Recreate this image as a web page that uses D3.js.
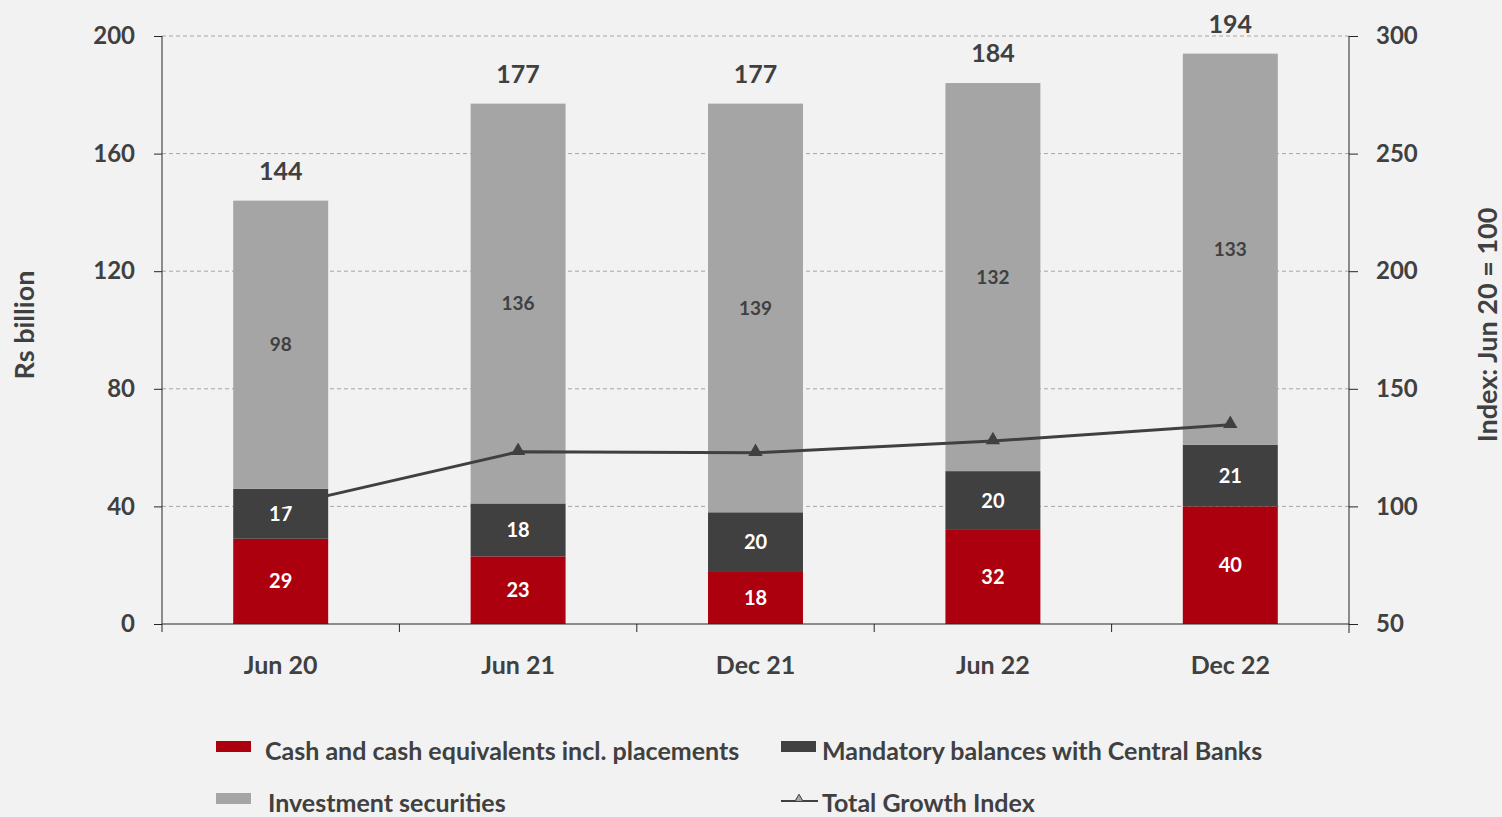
<!DOCTYPE html>
<html>
<head>
  <meta charset="utf-8">
  <title>Liquid assets</title>
  <style type="text/css">
    body { margin: 0; background: #f2f2f2; }
    svg text { font-family: Lato, "Open Sans", sans-serif; font-weight: bold; fill: #404040; }
    .axis path, .axis line { stroke: #262626; }
    .grid line { stroke: #a6a6a6; stroke-dasharray: 4 3; }
  </style>
</head>
<body>
  <div id="chart"></div>
  <script type="text/javascript" src="https://cdnjs.cloudflare.com/ajax/libs/d3/7.8.5/d3.min.js"></script>
  <script type="text/javascript">
  var periods = ['Jun 20', 'Jun 21', 'Dec 21', 'Jun 22', 'Dec 22'];
  var cash = [29, 23, 18, 32, 40];
  var mandatory = [17, 18, 20, 20, 21];
  var investments = [98, 136, 139, 132, 133];
  var totals = [144, 177, 177, 184, 194];
  var growthIndex = [100, 123.2, 122.8, 127.8, 134.7];
  var leftTicks = [0, 40, 80, 120, 160, 200];
  var rightTicks = [50, 100, 150, 200, 250, 300];

  var cfg = { w: 1502, h: 817, left: 162, right: 1349, top: 36, bottom: 624 };
  var colors = { cash: '#ad000f', mand: '#404040', inv: '#a5a5a5' };

  var svg = d3.select('#chart').append('svg')
    .attr('width', cfg.w)
    .attr('height', cfg.h);

  var xSc = d3.scaleBand().domain(periods).range([cfg.left, cfg.right]).paddingInner(0.6).paddingOuter(0.3);
  var xOuter = d3.scaleBand().domain(periods).range([cfg.left, cfg.right]);
  var ySc = d3.scaleLinear().domain([0, 200]).range([cfg.bottom, cfg.top]);
  var yRight = d3.scaleLinear().domain([50, 300]).range([cfg.bottom, cfg.top]);

  // gridlines
  svg.append('g').attr('class', 'grid')
    .selectAll('line').data(leftTicks.slice(1)).enter()
    .append('line')
    .attr('x1', cfg.left).attr('x2', cfg.right)
    .attr('y1', function(d) { return ySc(d) })
    .attr('y2', function(d) { return ySc(d) });

  // stacked bars
  var rows = periods.map(function(p, i) {
    return { period: p, cash: cash[i], mand: mandatory[i], inv: investments[i], total: totals[i] };
  });
  var stack = d3.stack().keys(['cash', 'mand', 'inv'])(rows);

  var barGroups = svg.append('g').selectAll('g.bar')
    .data(rows).enter()
    .append('g').attr('class', 'bar');

  barGroups.each(function(d, i) {
    var g = d3.select(this);
    stack.forEach(function(layer) {
      var seg = layer[i];
      g.append('rect')
        .attr('x', xSc(d.period))
        .attr('width', xSc.bandwidth())
        .attr('y', ySc(seg[1]))
        .attr('height', ySc(seg[0]) - ySc(seg[1]))
        .attr('fill', colors[layer.key]);
      g.append('text')
        .attr('x', xSc(d.period) + xSc.bandwidth() / 2)
        .attr('y', ySc((seg[0] + seg[1]) / 2))
        .attr('dy', '0.35em')
        .attr('text-anchor', 'middle')
        .style('font-size', layer.key === 'inv' ? '19px' : '20px')
        .style('fill', layer.key === 'inv' ? '#404040' : '#ffffff')
        .text(d[layer.key]);
    });
    g.append('text')
      .attr('x', xSc(d.period) + xSc.bandwidth() / 2)
      .attr('y', ySc(d.total) - 21)
      .attr('text-anchor', 'middle')
      .style('font-size', '25px')
      .text(d.total);
  });

  // growth index line
  var line = d3.line()
    .x(function(d, i) { return xSc(periods[i]) + xSc.bandwidth() / 2 })
    .y(function(d) { return yRight(d) });

  svg.append('path')
    .datum(growthIndex)
    .attr('d', line)
    .attr('fill', 'none')
    .attr('stroke', '#404040')
    .attr('stroke-width', 3);

  var tri = d3.symbol().type(d3.symbolTriangle).size(90);
  svg.append('g').selectAll('path')
    .data(growthIndex.slice(1)).enter()
    .append('path')
    .attr('d', tri)
    .attr('fill', '#404040')
    .attr('transform', function(d, i) {
      return 'translate(' + (xSc(periods[i + 1]) + xSc.bandwidth() / 2) + ',' + (yRight(d) - 1) + ')';
    });

  // first bar sits over the start of the line
  d3.select(barGroups.nodes()[0]).raise();

  // axes
  var yAxisL = svg.append('g').attr('class', 'axis')
    .attr('transform', 'translate(' + cfg.left + ',0)')
    .call(d3.axisLeft(ySc).tickValues(leftTicks).tickSize(8).tickPadding(19));
  yAxisL.select('.domain').attr('d', 'M0,' + cfg.top + 'V' + cfg.bottom);

  var yAxisR = svg.append('g').attr('class', 'axis')
    .attr('transform', 'translate(' + cfg.right + ',0)')
    .call(d3.axisRight(yRight).tickValues(rightTicks).tickSize(9).tickPadding(18));
  yAxisR.select('.domain').attr('d', 'M0,' + cfg.top + 'V' + (cfg.bottom + 9));

  var xAxis = svg.append('g').attr('class', 'axis')
    .attr('transform', 'translate(0,' + cfg.bottom + ')');
  xAxis.append('line').attr('x1', cfg.left).attr('x2', cfg.right).attr('stroke', '#262626');
  xAxis.selectAll('line.tick').data(periods).enter()
    .append('line').attr('class', 'tick')
    .attr('x1', function(d) { return xOuter(d) })
    .attr('x2', function(d) { return xOuter(d) })
    .attr('y1', 0).attr('y2', 8);
  xAxis.selectAll('text').data(periods).enter()
    .append('text')
    .attr('x', function(d) { return xOuter(d) + xOuter.bandwidth() / 2 })
    .attr('y', 50)
    .attr('text-anchor', 'middle')
    .style('font-size', '25px')
    .text(function(d) { return d });

  svg.selectAll('.axis .tick text')
    .style('font-size', '24px')
    .style('font-family', 'Lato, "Open Sans", sans-serif')
    .attr('fill', '#404040');

  // axis titles
  svg.append('text')
    .attr('transform', 'translate(34,325) rotate(-90)')
    .attr('text-anchor', 'middle')
    .style('font-size', '27px')
    .text('Rs billion');
  svg.append('text')
    .attr('transform', 'translate(1497,325) rotate(-90)')
    .attr('text-anchor', 'middle')
    .style('font-size', '27px')
    .text('Index: Jun 20 = 100');

  // legend
  var legend = [
    { label: 'Cash and cash equivalents incl. placements', type: 'rect', color: colors.cash, x: 216, tx: 265, y: 752 },
    { label: 'Mandatory balances with Central Banks', type: 'rect', color: colors.mand, x: 781, tx: 822, y: 752 },
    { label: 'Investment securities', type: 'rect', color: colors.inv, x: 216, tx: 268, y: 804 },
    { label: 'Total Growth Index', type: 'line', color: '#404040', x: 781, tx: 822, y: 804 }
  ];
  var lg = svg.append('g').selectAll('g').data(legend).enter().append('g');
  lg.each(function(d) {
    var g = d3.select(this);
    if (d.type === 'rect') {
      g.append('rect').attr('x', d.x).attr('y', d.y - 11).attr('width', 35).attr('height', 11).attr('fill', d.color);
    } else {
      g.append('line').attr('x1', d.x).attr('x2', d.x + 37).attr('y1', d.y - 3).attr('y2', d.y - 3)
        .attr('stroke', d.color).attr('stroke-width', 2);
      g.append('path').attr('d', d3.symbol().type(d3.symbolTriangle).size(30))
        .attr('transform', 'translate(' + (d.x + 18) + ',' + (d.y - 5) + ')')
        .attr('fill', '#a5a5a5').attr('stroke', d.color).attr('stroke-width', 1);
    }
    g.append('text')
      .attr('x', d.tx)
      .attr('y', d.y + 8)
      .style('font-size', '25px')
      .text(d.label);
  });
  </script>
</body>
</html>
